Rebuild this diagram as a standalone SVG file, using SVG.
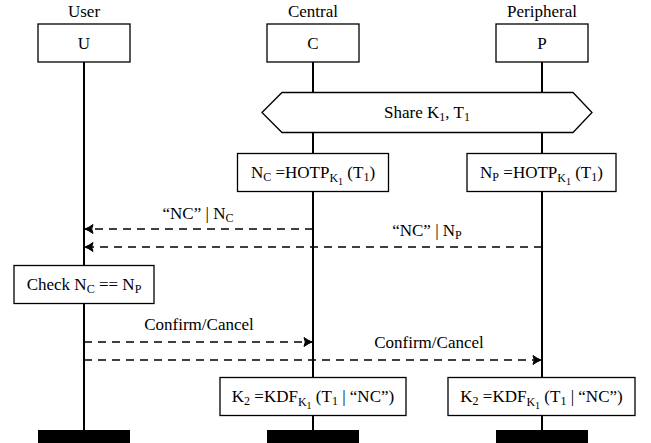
<svg xmlns="http://www.w3.org/2000/svg" width="651" height="443" viewBox="0 0 651 443" font-family="'Liberation Serif', 'DejaVu Serif', serif">
<style>
text{font-family:"Liberation Serif","DejaVu Serif",serif;font-size:17px;fill:#000;text-anchor:middle}
.box{fill:#fff;stroke:#000;stroke-width:1.3}
.life{stroke:#000;stroke-width:2;fill:none}
.msg{stroke:#000;stroke-width:1.3;fill:none;stroke-dasharray:8 6}
.bar{fill:#000}
.s{font-size:12px}
.ss{font-size:10px}
</style>
<defs>
<marker id="ah" markerUnits="userSpaceOnUse" viewBox="-10 -6 12 12" refX="0" refY="0" markerWidth="12" markerHeight="12" orient="auto">
<path d="M-8,-4.5 Q-4,-1.5 0,0 Q-4,1.5 -8,4.5 Q-5.5,0 -8,-4.5 Z" fill="#000" stroke="#000" stroke-width="1"/>
</marker>
</defs>
<g id="lifelines">
<line class="life" x1="84" y1="62" x2="84" y2="430"/>
<line class="life" x1="313" y1="62" x2="313" y2="430"/>
<line class="life" x1="542" y1="62" x2="542" y2="430"/>
</g>
<g id="user">
<text x="84" y="17">User</text>
<rect class="box" x="38" y="24" width="92" height="38"/>
<text x="84" y="49">U</text>
<rect class="bar" x="38" y="430" width="92" height="13"/>
</g>
<g id="central">
<text x="313" y="17">Central</text>
<rect class="box" x="267" y="24" width="92" height="38"/>
<text x="313" y="49">C</text>
<rect class="bar" x="267" y="430" width="92" height="13"/>
</g>
<g id="peripheral">
<text x="542" y="17">Peripheral</text>
<rect class="box" x="496" y="24" width="92" height="38"/>
<text x="542" y="49">P</text>
<rect class="bar" x="496" y="430" width="92" height="13"/>
</g>
<g id="share">
<polygon class="box" points="262,112.5 282,92.5 573,92.5 592,112.5 573,132.5 282,132.5"/>
<text x="427" y="118">Share K<tspan class="s" dy="3">1</tspan><tspan dy="-3">, T</tspan><tspan class="s" dy="3">1</tspan></text>
</g>
<g id="nc">
<rect class="box" x="237.5" y="153.5" width="151" height="38"/>
<text x="313" y="178">N<tspan class="s" dy="3">C</tspan><tspan dy="-3"> =HOTP</tspan><tspan class="s" dy="4">K</tspan><tspan class="ss" dy="3">1</tspan><tspan dy="-7"> (T</tspan><tspan class="s" dy="3">1</tspan><tspan dy="-3">)</tspan></text>
</g>
<g id="np">
<rect class="box" x="467" y="153.5" width="149" height="38"/>
<text x="541.5" y="178">N<tspan class="s" dy="3">P</tspan><tspan dy="-3"> =HOTP</tspan><tspan class="s" dy="4">K</tspan><tspan class="ss" dy="3">1</tspan><tspan dy="-7"> (T</tspan><tspan class="s" dy="3">1</tspan><tspan dy="-3">)</tspan></text>
</g>
<g id="check">
<rect class="box" x="14" y="265.5" width="140" height="38"/>
<text x="84" y="290">Check N<tspan class="s" dy="3">C</tspan><tspan dy="-3"> == N</tspan><tspan class="s" dy="3">P</tspan></text>
</g>
<g id="k2c">
<rect class="box" x="220" y="377.5" width="186" height="38"/>
<text x="313" y="402">K<tspan class="s" dy="3">2</tspan><tspan dy="-3"> =KDF</tspan><tspan class="s" dy="4">K</tspan><tspan class="ss" dy="3">1</tspan><tspan dy="-7"> (T</tspan><tspan class="s" dy="3">1</tspan><tspan dy="-3"> | “NC”)</tspan></text>
</g>
<g id="k2p">
<rect class="box" x="448" y="377.5" width="187" height="38"/>
<text x="541.5" y="402">K<tspan class="s" dy="3">2</tspan><tspan dy="-3"> =KDF</tspan><tspan class="s" dy="4">K</tspan><tspan class="ss" dy="3">1</tspan><tspan dy="-7"> (T</tspan><tspan class="s" dy="3">1</tspan><tspan dy="-3"> | “NC”)</tspan></text>
</g>
<g id="connectors">
<line class="msg" x1="313" y1="229" x2="85" y2="229" marker-end="url(#ah)"/>
<line class="msg" x1="542" y1="247" x2="85" y2="247" marker-end="url(#ah)"/>
<line class="msg" x1="84" y1="342" x2="312" y2="342" marker-end="url(#ah)"/>
<line class="msg" x1="84" y1="360" x2="541" y2="360" marker-end="url(#ah)"/>
<text x="198" y="219">“NC” | N<tspan class="s" dy="3">C</tspan></text>
<text x="427" y="236">“NC” | N<tspan class="s" dy="3">P</tspan></text>
<text x="199" y="330">Confirm/Cancel</text>
<text x="429" y="348">Confirm/Cancel</text>
</g>
</svg>
